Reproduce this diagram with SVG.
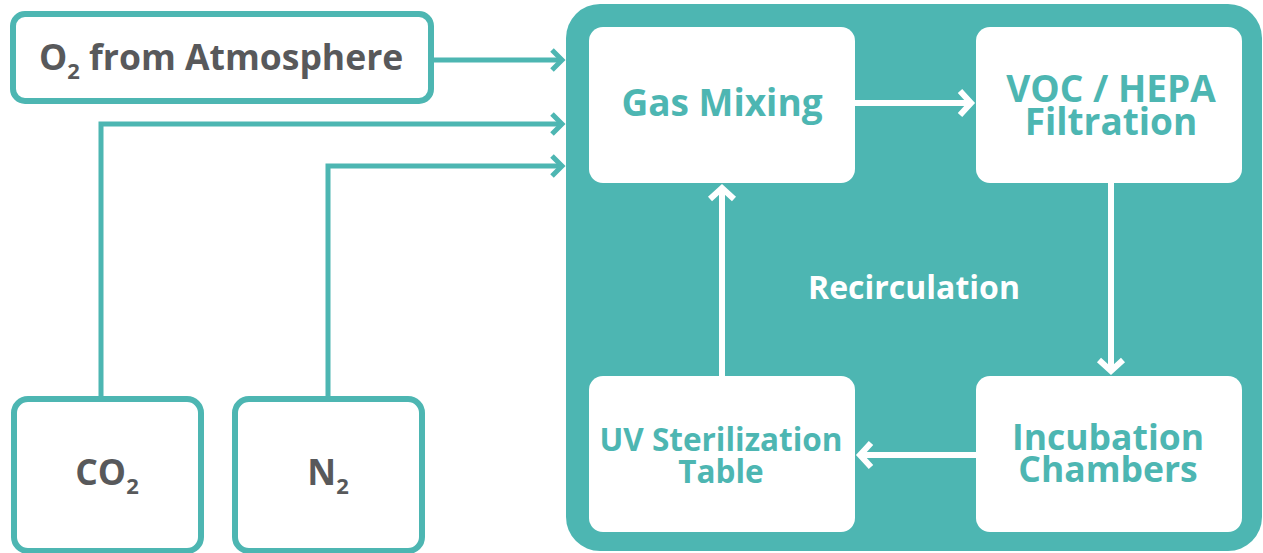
<svg xmlns="http://www.w3.org/2000/svg" width="1263" height="553" viewBox="0 0 1263 553">
<style>
.src{fill:#fff;stroke:#4DB6B2;stroke-width:6}
.stxt{font-family:"Open Sans","Noto Sans",sans-serif;font-weight:bold;fill:#58595B;font-size:35.5px}
.inner{fill:#fff}
.itxt{font-family:"Open Sans","Noto Sans",sans-serif;font-weight:bold;fill:#4DB6B2;text-anchor:middle}
.tl{fill:none;stroke:#4DB6B2;stroke-width:5}
.wl{fill:none;stroke:#fff;stroke-width:6}
</style>
<defs>
<marker id="ta" markerUnits="userSpaceOnUse" markerWidth="30" markerHeight="30" viewBox="-15 -15 30 30" refX="0" refY="0" orient="auto" overflow="visible">
<path d="M-10,-10 L0,0 L-10,10" fill="none" stroke="#4DB6B2" stroke-width="5"/>
</marker>
<marker id="wa" markerUnits="userSpaceOnUse" markerWidth="30" markerHeight="30" viewBox="-15 -15 30 30" refX="0" refY="0" orient="auto" overflow="visible">
<path d="M-11,-12 L0,0 L-11,12" fill="none" stroke="#fff" stroke-width="6"/>
</marker>
</defs>
<rect width="1263" height="553" fill="#fff"/>
<g id="recirculation">
<rect x="566" y="4" width="696" height="547" rx="34" fill="#4DB6B2"/>
<text x="914" y="299" font-family="Open Sans,Noto Sans,sans-serif" font-weight="bold" font-size="32" fill="#fff" text-anchor="middle">Recirculation</text>
</g>
<g id="o2">
<rect class="src" x="13" y="14" width="418" height="87" rx="12"/>
<text class="stxt" x="39" y="70">O<tspan font-size="22" dy="9">2</tspan><tspan dy="-9"> from Atmosphere</tspan></text>
</g>
<g id="co2">
<rect class="src" x="14" y="399" width="187" height="152" rx="14"/>
<text class="stxt" x="107" y="485" text-anchor="middle">CO<tspan font-size="22" dy="9">2</tspan></text>
</g>
<g id="n2">
<rect class="src" x="235" y="399" width="187" height="152" rx="14"/>
<text class="stxt" x="328" y="485" text-anchor="middle">N<tspan font-size="22" dy="9">2</tspan></text>
</g>
<g id="gasmixing">
<rect class="inner" x="589" y="27" width="266" height="156" rx="14"/>
<text class="itxt" x="722" y="116" style="font-size:37px">Gas Mixing</text>
</g>
<g id="filtration">
<rect class="inner" x="976" y="27" width="266" height="156" rx="14"/>
<text class="itxt" style="font-size:37px"><tspan x="1111" y="102">VOC / HEPA</tspan><tspan x="1111" y="135">Filtration</tspan></text>
</g>
<g id="incubation">
<rect class="inner" x="976" y="376" width="266" height="156" rx="14"/>
<text class="itxt" style="font-size:35.5px"><tspan x="1108" y="450">Incubation</tspan><tspan x="1108" y="482">Chambers</tspan></text>
</g>
<g id="uv">
<rect class="inner" x="589" y="376" width="266" height="156" rx="14"/>
<text class="itxt" style="font-size:31.5px"><tspan x="721" y="451">UV Sterilization</tspan><tspan x="721" y="483">Table</tspan></text>
</g>
<g id="connectors">
<path class="tl" d="M433,60 H562" marker-end="url(#ta)"/>
<path class="tl" d="M101,397 V124 H562" marker-end="url(#ta)"/>
<path class="tl" d="M328,397 V166 H562" marker-end="url(#ta)"/>
<path class="wl" d="M855,103 H971" marker-end="url(#wa)"/>
<path class="wl" d="M1111,183 V371" marker-end="url(#wa)"/>
<path class="wl" d="M976,455 H860" marker-end="url(#wa)"/>
<path class="wl" d="M722,376 V188" marker-end="url(#wa)"/>
</g>
</svg>
